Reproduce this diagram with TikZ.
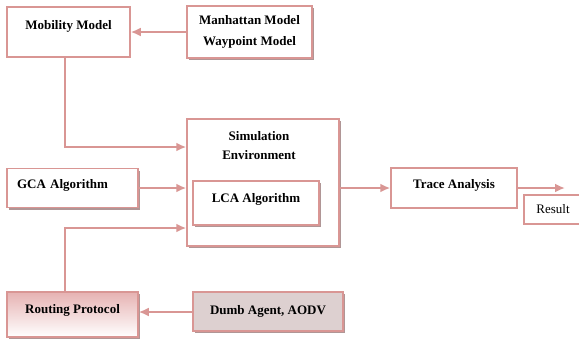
\documentclass[tikz,border=0pt]{standalone}
\usepackage{fontspec}
\setmainfont{Liberation Serif}
\usetikzlibrary{arrows.meta,shadows}
\definecolor{rose}{RGB}{217,150,148}
\definecolor{roseshade}{RGB}{176,150,150}
\definecolor{rosefill}{RGB}{230,178,178}
\definecolor{agentfill}{RGB}{221,208,208}
\tikzset{box/.style = {shape = rectangle, draw = rose, line width = 1.5pt, fill = white, font = \fontsize{13}{19}\selectfont\bfseries, inner sep = 0pt}}
\tikzset{title/.style = {font = \fontsize{13}{19}\selectfont\bfseries, align = center}}
\tikzset{shadowed/.style = {drop shadow = {shadow xshift = 2pt, shadow yshift = -2pt, fill = roseshade, opacity = 1}}}
\tikzset{lift/.style = {text height = 9pt, text depth = #1}}
\tikzset{edge/.style = {->, > = {Latex[length = 10pt, width = 9pt]}, draw = rose, line width = 2pt}}

\begin{document}
\begin{tikzpicture}[x = 1pt, y = -1pt]
			\useasboundingbox (0, 0) rectangle (579, 338);
			\clip (0, 0) rectangle (579, 338);

			\node[box, minimum width = 123pt, minimum height = 50pt, lift = 15pt] (mob) at (68.5, 32) {Mobility Model};
			\node[box, shadowed, minimum width = 125pt, minimum height = 52pt, align = center] (man) at (249.5, 32) {Manhattan Model\\[2pt]Waypoint Model};
			\node[box, shadowed, minimum width = 152pt, minimum height = 127pt] (sim) at (263, 182.5) {};
			\node[title] (simtitle) at (259, 145.5) {Simulation\\Environment};
			\node[box, shadowed, minimum width = 126pt, minimum height = 44pt, lift = 10.4pt] (lca) at (256, 203) {LCA Algorithm};
			\node[box, shadowed, minimum height = 39pt, text width = 111pt, inner xsep = 10pt, align = left, lift = 7.4pt] (gca) at (72.5, 188) {GCA Algorithm};
			\node[box, shadowed, top color = rosefill, middle color = rosefill!90!white, bottom color = white, minimum width = 131pt, minimum height = 45pt, lift = 11.4pt] (rout) at (72.5, 314.5) {Routing Protocol};
			\node[box, shadowed, fill = agentfill, minimum width = 150pt, minimum height = 39pt] (dumb) at (268, 311.5) {Dumb Agent, AODV};
			\node[box, minimum width = 126pt, minimum height = 40pt, lift = 8.4pt] (trace) at (454, 188) {Trace Analysis};
			\node[box, font = \fontsize{13}{15}\selectfont, minimum width = 58pt, minimum height = 29pt] (res) at (553, 209.5) {Result};
			\coordinate (out) at (565, 188);

			\draw[edge] (man) to (mob);
			\draw[edge] ([xshift = -3.5pt]mob.south) |- ([yshift = 35.5pt]sim.west);
			\draw[edge] (gca) to (gca -| sim.west);
			\draw[edge] ([xshift = -7.5pt]rout.north) |- ([yshift = -45.5pt]sim.west);
			\draw[edge] ([yshift = -0.5pt]dumb.west) to ([yshift = -0.5pt]dumb.west -| rout.east);
			\draw[edge] (sim.east |- trace) to (trace);
			\draw[edge] (trace) to (out);
		\end{tikzpicture}
\end{document}
